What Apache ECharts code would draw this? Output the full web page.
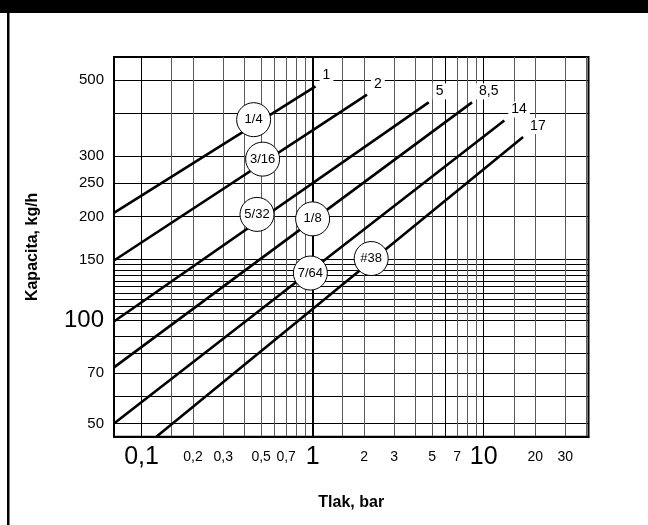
<!DOCTYPE html>
<html>
<head>
<meta charset="utf-8">
<script src="https://cdn.jsdelivr.net/npm/echarts@6/dist/echarts.min.js"></script>
<style>
  html, body { margin: 0; padding: 0; background: #fff; }
  #chart { width: 648px; height: 525px; }
</style>
</head>
<body>
<div id="chart"></div>
<script>
// krivky: popisek na konci, tlak a kapacita na zacatku a na konci
var endLabels = ['1', '2', '5', '8,5', '14', '17'];
var pStart = [0.069, 0.069, 0.069, 0.069, 0.069, 0.1225];
var qStart = [205, 149, 99, 72.8, 50, 45.8];
var pEnd = [1.04, 2.08, 4.77, 8.55, 13.2, 17.0];
var qEnd = [479, 453, 430, 430, 381, 341];

// krouzky s velikosti trysky
var sizeLabels = ['1/4', '3/16', '5/32', '1/8', '7/64', '#38'];
var sizeP = [0.452, 0.51, 0.473, 1.0, 0.97, 2.2];
var sizeQ = [383, 294, 203, 197, 137, 151];

// popisky os a mrizka
var xTicks = [0.1, 0.2, 0.3, 0.5, 0.7, 1, 2, 3, 5, 7, 10, 20, 30];
var xBig = [0.1, 1, 10];
var yTicks = [50, 70, 100, 150, 200, 250, 300, 500];
var yBig = [100];
var xGrid = [0.1, 0.15, 0.2, 0.3, 0.4, 0.5, 0.6, 0.7, 0.8, 0.9, 1, 1.5, 2, 3, 4, 5, 6, 7, 8, 9, 10, 15, 20, 30, 40];
var xGridDark = [0.1, 1, 6, 10];
var yGrid = [50, 60, 70, 80, 90, 100, 105, 110, 115, 120, 125, 130, 135, 140, 145, 150, 200, 250, 300, 400, 500];

var xRange = [0.069, 41];
var yRange = [45.75, 583];

var font = "'Liberation Sans', Arial, sans-serif";

function lg(v) { return Math.log10(v); }
function unlg(v) { return parseFloat(Math.pow(10, v).toFixed(3)); }
function isIn(list, v) {
    for (var i = 0; i < list.length; i++) {
        if (Math.abs(list[i] - v) < 1e-6) return true;
    }
    return false;
}

var chart = echarts.init(document.getElementById('chart'));

var series = [];
for (var i = 0; i < endLabels.length; i++) {
    series.push({
        name: endLabels[i],
        type: 'line',
        showSymbol: false,
        symbol: 'none',
        silent: true,
        z: 3,
        lineStyle: { color: '#000', width: 2.6 },
        data: [[lg(pStart[i]), lg(qStart[i])], [lg(pEnd[i]), lg(qEnd[i])]],
        endLabel: {
            show: true,
            formatter: endLabels[i],
            distance: 0,
            offset: [4, -11],
            padding: [1, 3],
            backgroundColor: '#fff',
            color: '#000',
            fontSize: 14,
            fontFamily: font
        }
    });
}

var circles = [];
for (var j = 0; j < sizeLabels.length; j++) {
    circles.push({ name: sizeLabels[j], value: [lg(sizeP[j]), lg(sizeQ[j])] });
}
series.push({
    type: 'scatter',
    z: 5,
    symbol: 'circle',
    symbolSize: 34,
    itemStyle: { color: '#fff', borderColor: '#000', borderWidth: 1, opacity: 1 },
    label: {
        show: true,
        position: 'inside',
        formatter: '{b}',
        color: '#000',
        fontSize: 13,
        fontFamily: font
    },
    data: circles
});

var xColors = xGrid.map(function (v) { return isIn(xGridDark, v) ? '#000' : '#5a5a5a'; });

var option = {
    animation: false,
    backgroundColor: '#fff',
    grid: {
        left: 114, top: 57, right: 59.5, bottom: 88.3,
        show: true, borderColor: '#000', borderWidth: 2
    },
    xAxis: {
        type: 'value',
        min: lg(xRange[0]),
        max: lg(xRange[1]),
        name: 'Tlak, bar',
        nameLocation: 'middle',
        nameGap: 58,
        nameTextStyle: { fontSize: 16, fontWeight: 'bold', color: '#000', fontFamily: font },
        axisLine: { show: true, lineStyle: { color: '#000', width: 2 } },
        axisTick: { show: false, customValues: xGrid.map(lg) },
        splitLine: { show: true, lineStyle: { color: xColors, width: 1 } },
        axisLabel: {
            customValues: xTicks.map(lg),
            margin: 7,
            color: '#000',
            fontFamily: font,
            formatter: function (v) {
                var n = unlg(v);
                var s = String(n).replace('.', ',');
                return isIn(xBig, n) ? '{b|' + s + '}' : '{s|' + s + '}';
            },
            rich: {
                b: { fontSize: 25, lineHeight: 26, fontFamily: font, color: '#000' },
                s: { fontSize: 14, lineHeight: 26, fontFamily: font, color: '#000' }
            }
        }
    },
    yAxis: {
        type: 'value',
        min: lg(yRange[0]),
        max: lg(yRange[1]),
        name: 'Kapacita, kg/h',
        nameLocation: 'middle',
        nameGap: 73,
        nameTextStyle: { fontSize: 16, fontWeight: 'bold', color: '#000', fontFamily: font },
        axisLine: { show: true, lineStyle: { color: '#000', width: 2 } },
        axisTick: { show: false, customValues: yGrid.map(lg) },
        splitLine: { show: true, lineStyle: { color: '#000', width: 1 } },
        axisLabel: {
            customValues: yTicks.map(lg),
            margin: 10,
            color: '#000',
            fontFamily: font,
            formatter: function (v) {
                var n = Math.round(unlg(v));
                return isIn(yBig, n) ? '{b|' + n + '}' : '{s|' + n + '}';
            },
            rich: {
                b: { fontSize: 24, fontFamily: font, color: '#000' },
                s: { fontSize: 15, fontFamily: font, color: '#000' }
            }
        }
    },
    graphic: [
        { type: 'rect', left: 0, top: 0, shape: { width: 648, height: 13 }, style: { fill: '#000' }, z: 10 },
        { type: 'rect', left: 7, top: 13, shape: { width: 2.5, height: 512 }, style: { fill: '#000' }, z: 10 }
    ],
    series: series
};

option && chart.setOption(option);
</script>
</body>
</html>
